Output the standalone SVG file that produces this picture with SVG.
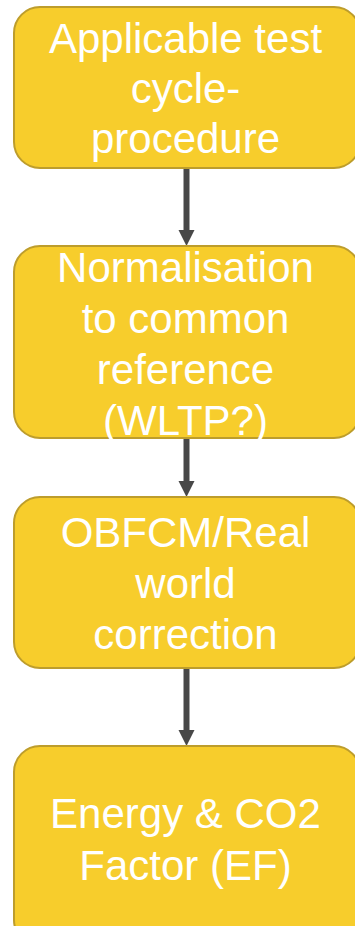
<svg xmlns="http://www.w3.org/2000/svg" width="355" height="926" viewBox="0 0 355 926">
<style>
.box{fill:#F7CD2C;stroke:#BD9D2C;stroke-width:2}
.lbl{fill:#FFFFFF;font-family:"Liberation Sans",Arial,sans-serif;font-size:42px;text-anchor:middle}
.conn{stroke:#484848;stroke-width:6;fill:none}
.head{fill:#484848}
</style>
<rect width="355" height="926" fill="#FFFFFF"/>
<g id="connectors">
<line class="conn" x1="186.5" y1="168" x2="186.5" y2="231"/>
<polygon class="head" points="178.5,230 194.5,230 186.5,246"/>
<line class="conn" x1="186.5" y1="438" x2="186.5" y2="482"/>
<polygon class="head" points="178.5,481 194.5,481 186.5,497"/>
<line class="conn" x1="186.5" y1="668" x2="186.5" y2="731"/>
<polygon class="head" points="178.5,730 194.5,730 186.5,746"/>
</g>
<g id="node1">
<rect class="box" x="14" y="7" width="346" height="161" rx="26" ry="26"/>
<text class="lbl" x="185.5" y="53">Applicable test</text>
<text class="lbl" x="185.5" y="103">cycle-</text>
<text class="lbl" x="185.5" y="153">procedure</text>
</g>
<g id="node2">
<rect class="box" x="14" y="246" width="346" height="192" rx="26" ry="26"/>
<text class="lbl" x="185.5" y="282">Normalisation</text>
<text class="lbl" x="185.5" y="333">to common</text>
<text class="lbl" x="185.5" y="384">reference</text>
<text class="lbl" x="185.5" y="435">(WLTP?)</text>
</g>
<g id="node3">
<rect class="box" x="14" y="497" width="346" height="171" rx="26" ry="26"/>
<text class="lbl" x="185.5" y="547">OBFCM/Real</text>
<text class="lbl" x="185.5" y="598">world</text>
<text class="lbl" x="185.5" y="649">correction</text>
</g>
<g id="node4">
<rect class="box" x="14" y="746" width="346" height="200" rx="26" ry="26"/>
<text class="lbl" x="185.5" y="828">Energy &amp; CO2</text>
<text class="lbl" x="185.5" y="880">Factor (EF)</text>
</g>
</svg>
